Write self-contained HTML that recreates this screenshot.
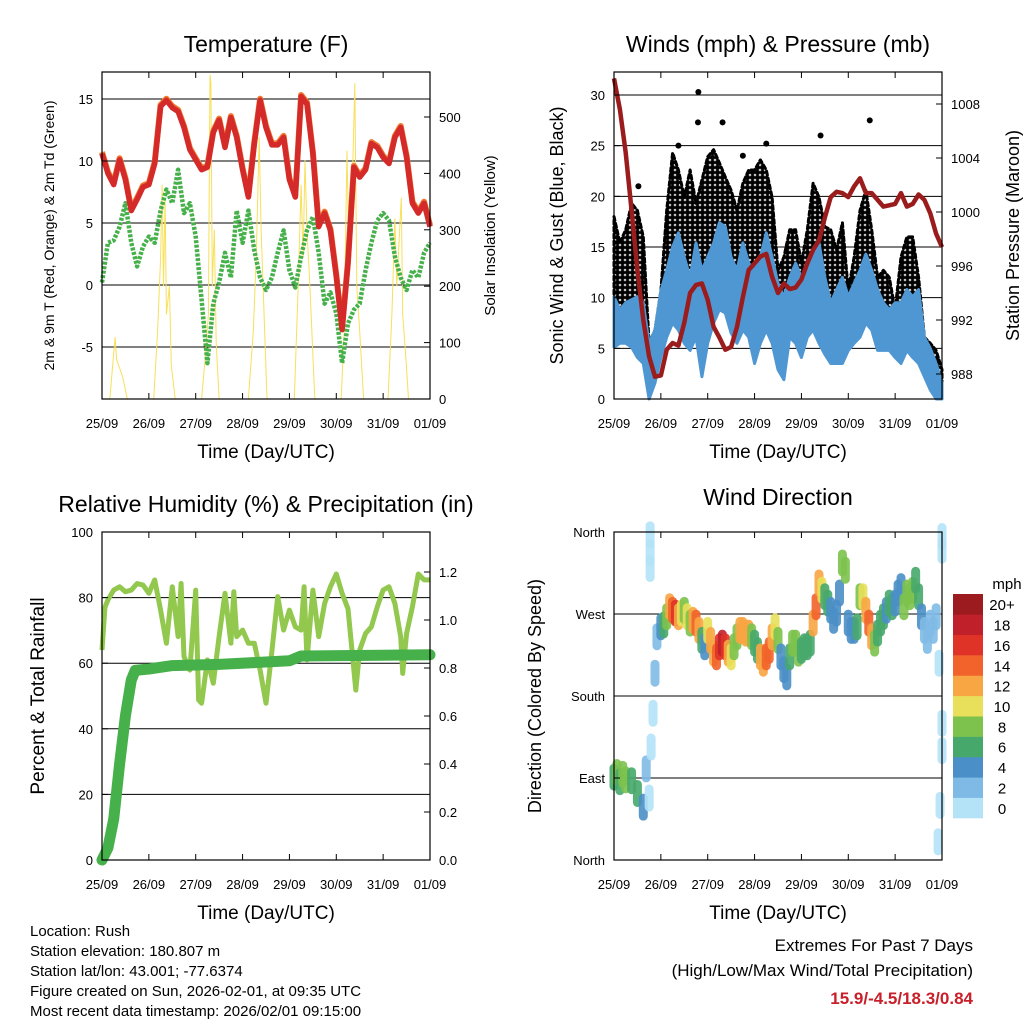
<!DOCTYPE html>
<html><head><meta charset="utf-8"><style>
body{margin:0;background:#fff;}
svg{display:block;font-family:"Liberation Sans",sans-serif;}
</style></head><body>
<svg id="fig" width="1024" height="1024" viewBox="0 0 1024 1024">
<defs>
<pattern id="dots" width="5" height="5" patternUnits="userSpaceOnUse"><circle cx="2.5" cy="2.5" r="2.6" fill="#000"/></pattern>
</defs>
<g id="layer"></g>
<g font-size="15" fill="#000">
<text x="30" y="936">Location: Rush</text>
<text x="30" y="956">Station elevation: 180.807 m</text>
<text x="30" y="976">Station lat/lon: 43.001; -77.6374</text>
<text x="30" y="996">Figure created on Sun, 2026-02-01, at 09:35 UTC</text>
<text x="30" y="1016">Most recent data timestamp: 2026/02/01 09:15:00</text>
</g>
<g text-anchor="end">
<text x="973" y="951" font-size="17">Extremes For Past 7 Days</text>
<text x="973" y="976" font-size="17">(High/Low/Max Wind/Total Precipitation)</text>
<text x="973" y="1004" font-size="17" font-weight="bold" fill="#c8202a">15.9/-4.5/18.3/0.84</text>
</g>
</svg>
<script>
// ---------- data ----------
const dayLabels=["25/09","26/09","27/09","28/09","29/09","30/09","31/09","01/09"];
const tempT=[0,3,6,9,12,15,18,21,24,27,30,33,36,39,42,45,48,51,54,57,60,63,66,69,72,75,78,81,84,87,90,93,96,99,102,105,108,111,114,117,120,123,126,129,132,135,138,141,144,147,150,153,156,159,162,165,168];
const tempRed=[10.6,9.0,8.1,10.1,8.5,6.0,6.9,7.9,8.1,9.8,14.4,14.9,14.3,14.0,12.7,10.9,10.1,9.3,9.5,12.3,13.3,11.1,13.5,11.9,9.3,7.1,11.4,14.9,12.7,11.3,11.3,11.9,8.5,7.1,15.2,14.6,10.6,4.7,5.8,4.4,0.7,-3.6,1.8,9.5,8.7,9.3,11.4,11.1,10.3,9.8,11.9,12.7,10.3,6.6,5.8,6.6,4.7];
const dewGreen=[0.2,3.4,3.6,4.7,6.6,3.4,1.5,3.1,3.9,3.4,6.0,7.7,6.6,9.3,5.8,6.6,3.9,-1.2,-6.3,-1.5,0.2,2.6,0.6,6.0,3.4,6.0,2.8,0.6,-0.4,0.6,2.6,4.4,1.2,-0.2,2.3,4.4,5.5,2.6,-1.5,-0.6,-2.3,-6.3,-3.1,-2.0,-1.5,1.2,3.4,5.2,5.8,5.2,2.3,0.6,-0.4,1.2,0.6,2.6,3.4];
const solarT=[0,4,5.5,6.7,7.5,9,10.5,13,26.5,28.5,30,30.8,31.5,32.3,33,34.5,35.5,37.5,51,53,54.5,55.3,55.8,56.5,57.5,58.5,60,75,77.5,79,80.5,81.5,82.5,84.5,98.5,100.5,102,103,104,105,106.5,109,122.5,124,125.5,126.5,128,129.5,130.5,132,134,146.5,148.5,150,151,153.3,154,155.5,157,168];
const solarV=[0,0,60,110,70,55,40,0,0,120,250,380,200,357,150,200,60,0,0,80,150,575,560,200,300,100,0,0,120,250,464,300,200,0,0,200,380,250,423,300,200,0,0,120,440,250,350,560,200,120,0,0,150,320,200,357,150,80,0,0];
const windT=tempT;
const windLo=[5.1,5.5,5.5,5.1,4.1,3.5,0,1.6,4.1,6.1,7.5,6.8,5.5,4.8,6.1,2.2,5.5,7.5,8.8,8.5,6.5,5.5,6.8,6.1,3.5,5.5,6.8,5.5,2.9,1.9,6.1,5.5,4.1,6.1,6.8,5.5,4.4,3.5,3.5,3.5,4.8,5.5,6.1,7.5,6.8,4.8,4.8,4.8,4.1,3.5,4.8,4.1,3.5,2.2,0.9,0,0];
const windHi=[10.1,8.8,9.5,9.8,10.1,9.5,5.5,6.8,10.7,12.7,15.0,16.4,14.0,12.0,15.4,12.7,14.0,15.4,17.4,17.0,14.0,12.7,15.4,13.4,12.7,14.0,16.4,14.0,11.4,10.1,12.0,13.4,12.0,13.4,14.7,15.4,12.0,9.5,10.8,12.0,10.1,11.4,12.7,14.3,12.7,10.8,9.5,8.8,9.5,9.5,10.8,10.1,10.8,6.1,5.0,3.5,1.6];
const gustHi=[18,15.4,16.7,19.3,18.6,16.0,5.5,6.8,10.7,18.6,24.3,22.6,19.9,22.6,19.3,21.6,23.9,24.6,23.3,21.9,20.6,18.6,21.3,22.6,22.6,23.6,22.6,19.9,12.7,14.0,16.7,16.7,13.4,16.7,21.3,19.9,17.0,16.7,14.7,17.4,10.7,14.0,18.6,20.6,16.7,12.0,12.7,12.0,8.8,14.0,16.0,16.0,12.0,6.1,5.5,4.8,2.9];
const gustOutT=[43.2,43,55.6,131,105.8,78,12.5,33,66];
const gustOutV=[30.3,27.3,27.3,27.5,26.0,25.2,21.0,25.0,24.0];
const presT=tempT;
const presV=[1009.9,1007.6,1004.4,1000.1,995.7,992,989.3,987.8,987.9,989.8,990.3,990.1,991.8,994.0,994.6,994.7,993.5,991.5,990.7,989.8,990.0,991.5,993.7,995.7,996.2,996.7,996.9,995.2,994.0,994.7,994.3,994.4,995.0,996.2,997.2,997.9,999.6,1001.1,1001.5,1001.4,1001.1,1001.9,1002.5,1001.4,1001.4,1000.9,1000.4,1000.5,1000.6,1001.4,1000.4,1000.6,1001.3,1000.9,999.9,998.4,997.4];
const rhT=[0,1.5,3,6,9,12,15,18,21,24,27,30,33,36,39,40.5,42,45,48,49.5,51,54,57,60,63,66,67.5,69,72,75,78,81,84,87,90,93,96,99,102,103.5,105,108,111,114,117,120,123,126,129,130,132,135,138,141,144,147,150,153,154,156,159,162,165,168];
const rhV=[64,77,79.3,82.3,83.3,81.8,82.3,84.3,83.8,81.3,85.4,76.2,66.1,83.3,68.1,84.3,62.0,57.9,82.3,48.8,47.8,61.0,53.9,68.1,81.3,66.1,81.8,68.1,70.1,66.1,66.1,57.9,47.8,63.7,80.3,70.1,76.2,71.1,70.1,83.3,61.0,82.3,68.1,78.2,83.3,87.2,81.3,76.6,57.9,51.8,64,69.1,71.1,77.2,82.3,83.3,78.2,68.1,56.9,69.1,77.2,87.2,85.4,85.4];
const rainT=[0,3,6,9,12,15,17,24,36,60,96,102,168];
const rainV=[0,0.05,0.17,0.40,0.60,0.75,0.79,0.796,0.81,0.815,0.83,0.85,0.855];
const dirT=[0,1.5,3,4.5,6,9,12,15,16.5,18,19,20,21,22,24,25.5,27,28.5,30,31.5,33,34.5,36,37.5,39,40.5,42,43.5,45,46.5,48,49.5,51,52.5,54,55.5,57,58.5,60,61.5,63,64.5,66,67.5,69,70.5,72,73.5,75,76.5,78,79.5,81,82.5,84,85.5,87,88.5,90,91.5,93,94.5,96,97.5,99,100.5,102,103.5,105,106.5,108,109.5,111,112.5,114,115.5,117,118.5,120,121.5,123,124.5,126,127.5,129,130.5,132,133.5,135,136.5,138,139.5,141,142.5,144,145.5,147,148.5,150,151.5,153,154.5,156,157.5,159,160.5,162,163.5,165,166.5,18.5,18.5,18.5,166,167,168,168,168,168];
const dirV=[91,96,86,94,88,87,73,58,100,68,124,161,205,245,256,258,267,278,274,271,267,271,274,267,260,263,260,252,241,234,252,241,227,223,234,238,234,227,223,234,245,252,252,249,249,245,238,230,223,216,223,230,245,256,241,223,209,201,223,238,238,227,230,234,234,238,260,278,304,296,289,282,274,263,271,293,326,318,260,252,252,256,289,289,274,260,245,238,249,260,267,274,282,278,282,293,300,278,293,289,296,307,289,267,252,241,260,252,267,216,357,337,320,20,60,120,150,340,355];
const dirS=[7,9,7,8,8,7,6,5,3,1,1,1,2,3,4,7,8,12,14,16,12,10,8,10,9,13,14,13,6,5,10,12,13,14,16,18,16,12,10,8,8,12,13,12,13,9,7,7,12,13,15,14,12,10,8,5,4,4,7,8,9,8,7,7,6,7,12,15,12,10,7,6,5,4,5,4,8,9,4,4,5,6,9,10,12,15,12,8,7,7,6,5,6,7,4,4,5,8,8,9,8,7,6,4,3,3,2,3,2,1,0,0,0,1,1,1,1,0,0];
const speedColors=["#b4e2f7","#7fbae6","#4a8fc7","#47a86c","#7cc24c","#e8e05a","#f8a543","#f1632a","#df3327","#c0202a","#9b1b1e"];
const speedLabels=["0","2","4","6","8","10","12","14","16","18","20+"];

// ---------- helpers ----------
const NS="http://www.w3.org/2000/svg";
const root=document.getElementById('layer');
function mk(tag,attrs,parent){const e=document.createElementNS(NS,tag);for(const k in attrs)e.setAttribute(k,attrs[k]);(parent||root).appendChild(e);return e;}
function txt(x,y,s,size,anchor,parent,rot){const e=mk('text',{x:x,y:y,'font-size':size,'text-anchor':anchor||'middle'},parent);if(rot)e.setAttribute('transform','rotate(-90 '+x+' '+y+')');e.textContent=s;return e;}
function scale(d0,d1,r0,r1){return v=>r0+(v-d0)*(r1-r0)/(d1-d0);}
function pathOf(xs,ys,fx,fy){return xs.map((t,i)=>(i?'L':'M')+fx(t).toFixed(1)+' '+fy(ys[i]).toFixed(1)).join(' ');}

function panel(cfg){
  const g=mk('g',{});
  
  
  const L=cfg.x0,R=cfg.x1,T=cfg.y0,B=cfg.y1;
  const fx=scale(0,168,L,R);
  const t=txt((L+R)/2,cfg.titleY,cfg.title,23,'middle',g);
  
  
  const grid=mk('g',{stroke:'#000','stroke-width':1},g);
  
  
  cfg.grid.forEach(v=>{const y=cfg.fy(v);mk('line',{x1:L,x2:R,y1:y,y2:y},grid);});
  const plot=mk('g',{},g);
  
  
  const fr=mk('rect',{x:L,y:T,width:R-L,height:B-T,fill:'none',stroke:'#000','stroke-width':1.2},g);
  
  
  const xa=mk('g',{},g);
  
  
  dayLabels.forEach((s,i)=>{const x=fx(i*24);mk('line',{x1:x,x2:x,y1:B,y2:B-6,stroke:'#000'},xa);mk('line',{x1:x,x2:x,y1:T,y2:T+6,stroke:'#000'},xa);txt(x,B+29,s,13,'middle',xa);});
  const xt=txt((L+R)/2,B+59,'Time (Day/UTC)',19,'middle',g);
  
  
  const la=mk('g',{},g);
  
  
  cfg.lt.forEach((v,i)=>{const y=cfg.fy(v);mk('line',{x1:L,x2:L+6,y1:y,y2:y,stroke:'#000'},la);txt(L-9,y+5,cfg.ll[i],13,'end',la);});
  const yt=txt(cfg.ltX,(T+B)/2,cfg.ltitle,cfg.ltSize,'middle',g,true);
  
  
  if(cfg.rt){
    const ra=mk('g',{},g);
    
    
    cfg.rt.forEach((v,i)=>{const y=cfg.fr(v);mk('line',{x1:R,x2:R-6,y1:y,y2:y,stroke:'#000'},ra);txt(R+9,y+5,cfg.rl[i],13,'start',ra);});
    const rtt=txt(cfg.rtX,(T+B)/2,cfg.rtitle,cfg.rtSize,'middle',g,true);
    
    
  }
  return {g:plot,fx:fx};
}

// ---------- Temperature ----------
(function(){
  const fy=scale(0,15,285,99), fr=scale(0,500,399,117);
  const p=panel({name:'temperature-panel',x0:102,x1:430,y0:72,y1:399,title:'Temperature (F)',titleY:52,fy:fy,fr:fr,
    grid:[-5,0,5,10,15],lt:[-5,0,5,10,15],ll:['-5','0','5','10','15'],ltX:54,ltitle:'2m & 9m T (Red, Orange) & 2m Td (Green)',ltSize:14,
    rt:[0,100,200,300,400,500],rl:['0','100','200','300','400','500'],rtX:495,rtitle:'Solar Insolation (Yellow)',rtSize:15});
  const s=mk('path',{d:pathOf(solarT,solarV,p.fx,fr),fill:'none',stroke:'#f7e05a','stroke-width':1},p.g);
  
  
  const d=mk('path',{d:pathOf(tempT,dewGreen,p.fx,fy),fill:'none',stroke:'#46b04a','stroke-width':4.5,'stroke-dasharray':'3 1.5','stroke-linejoin':'round'},p.g);
  
  
  const o=mk('path',{d:pathOf(tempT,tempRed,p.fx,fy),fill:'none',stroke:'#f07a30','stroke-width':6,'stroke-linejoin':'round',transform:'translate(0,-1.5)'},p.g);
  
  
  const r=mk('path',{d:pathOf(tempT,tempRed,p.fx,fy),fill:'none',stroke:'#d42a2a','stroke-width':5.5,'stroke-linejoin':'round'},p.g);
  
  
})();

// ---------- Winds ----------
(function(){
  const fy=scale(0,30,399,95), fr=scale(988,1008,374,104);
  const p=panel({name:'winds-pressure-panel',x0:614,x1:942,y0:72,y1:399,title:'Winds (mph) & Pressure (mb)',titleY:52,fy:fy,fr:fr,
    grid:[5,10,15,20,25,30],lt:[0,5,10,15,20,25,30],ll:['0','5','10','15','20','25','30'],ltX:563,ltitle:'Sonic Wind & Gust (Blue, Black)',ltSize:18,
    rt:[988,992,996,1000,1004,1008],rl:['988','992','996','1000','1004','1008'],rtX:1019,rtitle:'Station Pressure (Maroon)',rtSize:18});
  const gp=pathOf(windT,gustHi,p.fx,fy)+' '+windT.slice().reverse().map((t,i)=>'L'+p.fx(t).toFixed(1)+' '+fy(windHi[windHi.length-1-i]*0.85).toFixed(1)).join(' ')+'Z';
  const gb=mk('path',{d:gp,fill:'url(#dots)',stroke:'#000','stroke-width':3,'stroke-dasharray':'4 3','stroke-linecap':'round','stroke-linejoin':'round'},p.g);
  
  
  gustOutT.forEach((t,i)=>{const c=mk('circle',{cx:p.fx(t),cy:fy(gustOutV[i]),r:3,fill:'#000'},p.g);
    
    });
  const bp=pathOf(windT,windHi,p.fx,fy)+' '+windT.slice().reverse().map((t,i)=>'L'+p.fx(t).toFixed(1)+' '+fy(windLo[windLo.length-1-i]).toFixed(1)).join(' ')+'Z';
  const bb=mk('path',{d:bp,fill:'#4f97d3',stroke:'#4f97d3','stroke-width':3,'stroke-linejoin':'round'},p.g);
  
  
  const pl=mk('path',{d:pathOf(presT,presV,p.fx,fr),fill:'none',stroke:'#9b1c1c','stroke-width':4.5,'stroke-linejoin':'round'},p.g);
  
  
})();

// ---------- RH & Precip ----------
(function(){
  const fy=scale(0,100,860,532), fr=scale(0,1.2,860,572);
  const p=panel({name:'humidity-precip-panel',x0:102,x1:430,y0:532,y1:860,title:'Relative Humidity (%) & Precipitation (in)',titleY:512,fy:fy,fr:fr,
    grid:[20,40,60,80],lt:[0,20,40,60,80,100],ll:['0','20','40','60','80','100'],ltX:44,ltitle:'Percent & Total Rainfall',ltSize:19,
    rt:[0,0.2,0.4,0.6,0.8,1.0,1.2],rl:['0.0','0.2','0.4','0.6','0.8','1.0','1.2']});
  const h=mk('path',{d:pathOf(rhT,rhV,p.fx,fy),fill:'none',stroke:'#92c84e','stroke-width':5,'stroke-linejoin':'round'},p.g);
  
  
  const r=mk('path',{d:pathOf(rainT,rainV,p.fx,fr),fill:'none',stroke:'#46b04a','stroke-width':11,'stroke-linejoin':'round','stroke-linecap':'round'},p.g);
  
  
})();

// ---------- Wind direction ----------
(function(){
  const fy=scale(0,360,860,532);
  const p=panel({name:'wind-direction-panel',x0:614,x1:942,y0:532,y1:860,title:'Wind Direction',titleY:505,fy:fy,
    grid:[90,180,270],lt:[0,90,180,270,360],ll:['North','East','South','West','North'],ltX:541,ltitle:'Direction (Colored By Speed)',ltSize:18});
  dirT.forEach((t,i)=>{
    const ci=Math.min(10,Math.floor(dirS[i]/2));
    const x=p.fx(t),y=fy(dirV[i]);
    const c=mk('line',{x1:x,x2:x,y1:y-9,y2:y+9,stroke:speedColors[ci],'stroke-width':9,'stroke-linecap':'round','stroke-opacity':0.9},p.g);
    
    
  });
  const cb=mk('g',{});
  
  
  const h=224/11;
  speedColors.forEach((col,i)=>{const y=818-(i+1)*h;
    const r=mk('rect',{x:953,y:y,width:30,height:h+0.3,fill:col},cb);
    
    
    txt(1002,y+h/2+6,speedLabels[i],15,'middle',cb);});
  txt(1007,589,'mph',15,'middle',cb);
})();
</script>
</body></html>
